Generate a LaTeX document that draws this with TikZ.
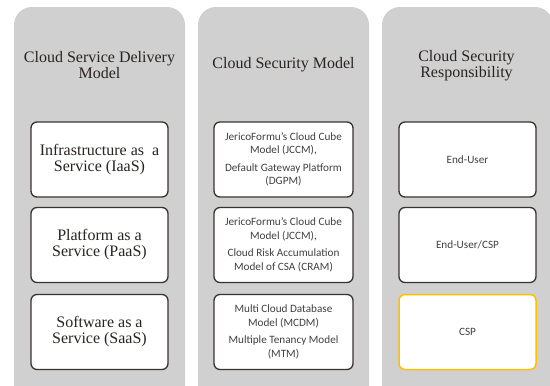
\documentclass[tikz,border=0pt]{standalone}
\usepackage{fontspec}
\setmainfont{Liberation Serif}
\newfontfamily\boxsans{Carlito}
\definecolor{panelgray}{RGB}{208,208,208}
\definecolor{boxline}{RGB}{58,50,46}
\definecolor{gold}{RGB}{255,192,0}
\definecolor{serifink}{RGB}{40,36,34}
\definecolor{sansink}{RGB}{64,64,64}
\begin{document}
\begin{tikzpicture}[x=1pt,y=-1pt,
  panel/.style={fill=panelgray, rounded corners=18pt},
  cell/.style={draw=boxline, line width=1.3pt, fill=white, rounded corners=6pt,
    minimum width=137pt, minimum height=75pt, align=center, inner sep=0pt},
  serifcell/.style={cell, text=serifink, font=\fontsize{16}{16}\selectfont},
  sanscell/.style={cell, text=sansink, font=\boxsans\fontsize{11.2}{13.5}\selectfont},
  goldcell/.style={sanscell, draw=gold, line width=1.5pt},
  title/.style={text=serifink, font=\fontsize{16}{16}\selectfont, align=center}
]
\useasboundingbox (0,0) rectangle (550,386);
\clip (0,0) rectangle (550,386);
\fill[white] (0,0) rectangle (550,386);
% panels
\path[panel] (14,7) rectangle (185,420);
\path[panel] (198,7) rectangle (369,420);
\path[panel] (382,7) rectangle (553,420);
% titles
\node[title] (t1) at (99.5,65.5) {Cloud Service Delivery\\Model};
\node[title] (t2) at (283.5,65) {Cloud Security Model};
\node[title] (t3) at (466.5,65.5) {Cloud Security\\Responsibility};
% column 1
\node[serifcell] (a1) at (99.5,159.5) {Infrastructure as\ \ a\\Service (IaaS)};
\node[serifcell] (a2) at (99.5,245) {Platform as a\\Service (PaaS)};
\node[serifcell] (a3) at (99.5,332) {Software as a\\Service (SaaS)};
% column 2
\node[sanscell, minimum width=139pt] (b1) at (283.5,159.5) {JericoFormu’s Cloud Cube\\Model (JCCM),\\[4pt]Default Gateway Platform\\(DGPM)};
\node[sanscell, minimum width=139pt] (b2) at (283.5,245) {JericoFormu’s Cloud Cube\\Model (JCCM),\\[4pt]Cloud Risk Accumulation\\Model of CSA (CRAM)};
\node[sanscell, minimum width=139pt] (b3) at (283.5,332) {Multi Cloud Database\\Model (MCDM)\\[4pt]Multiple Tenancy Model\\(MTM)};
% column 3
\node[sanscell] (c1) at (467.5,159.5) {End-User};
\node[sanscell] (c2) at (467.5,245) {End-User/CSP};
\node[goldcell] (c3) at (467.5,332) {CSP};
\end{tikzpicture}
\end{document}
